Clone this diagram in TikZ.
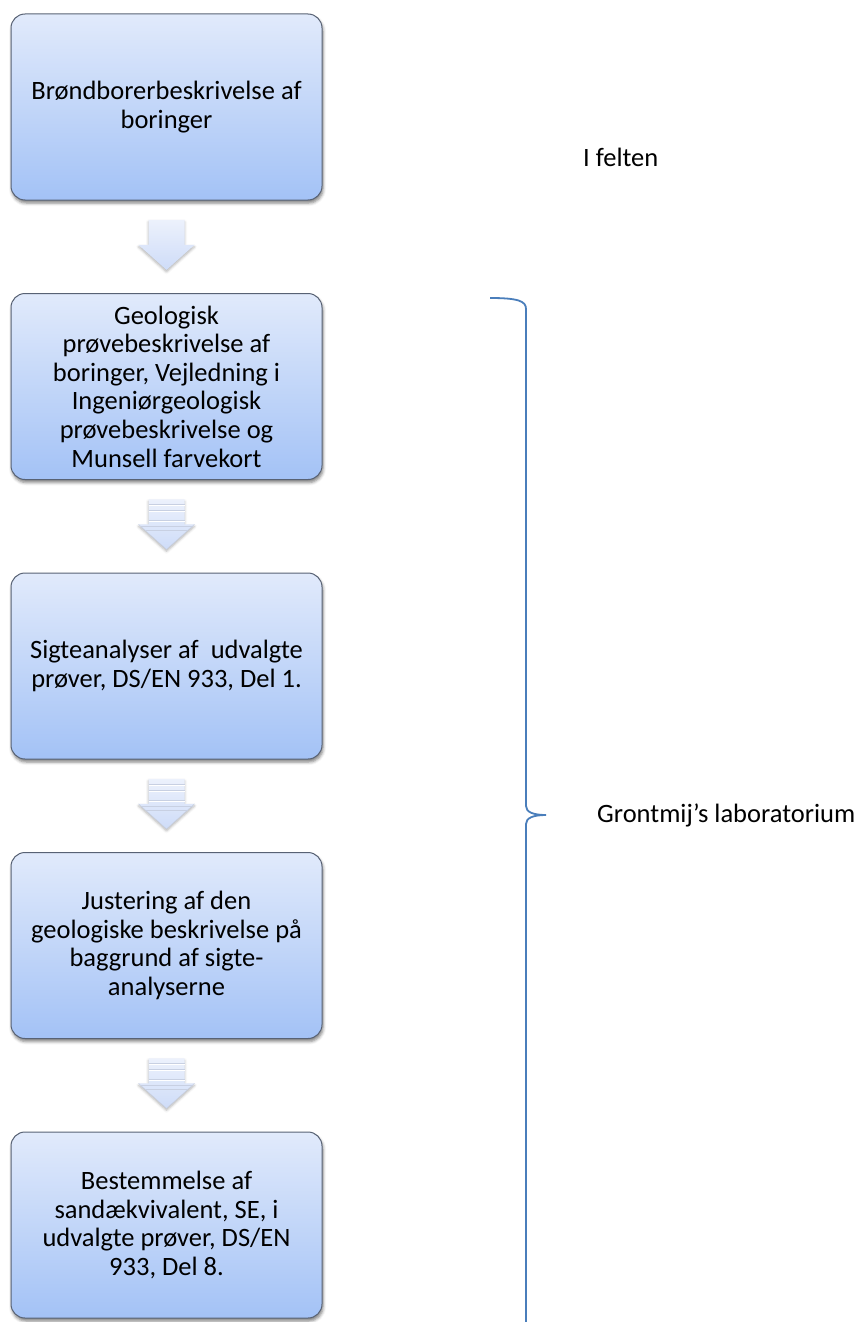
\documentclass[tikz,border=0pt]{standalone}
\usepackage{fontspec}
\setmainfont{Carlito}
\usepackage{tikz}
\usetikzlibrary{calc,shadows.blur}
\definecolor{boxtop}{RGB}{225,234,251}
\definecolor{boxbot}{RGB}{163,194,246}
\definecolor{boxline}{RGB}{88,98,116}
\definecolor{arrtop}{RGB}{236,241,252}
\definecolor{arrbot}{RGB}{206,220,248}
\definecolor{arrline}{RGB}{200,208,226}
\definecolor{bracecol}{RGB}{74,126,187}
\tikzset{
  stepbox/.style={rectangle, rounded corners=14pt, draw=boxline, line width=1pt,
                  top color=boxtop, bottom color=boxbot, align=center,
                  font=\fontsize{26.5}{28.6}\selectfont, inner sep=0pt,
                  minimum width=311pt, minimum height=186pt,
                  blur shadow={shadow xshift=1pt, shadow yshift=-3pt,
                               shadow blur radius=3pt, shadow opacity=50}},
  blockarr/.style={top color=arrtop, bottom color=arrbot,
                   blur shadow={shadow xshift=0pt, shadow yshift=-2pt,
                                shadow blur radius=2.5pt, shadow opacity=30}},
  stripe/.style={arrline, line width=0.5pt},
  bracket/.style={draw=bracecol, line width=1.8pt},
  sidelbl/.style={font=\fontsize{26.5}{28.6}\selectfont, inner sep=0pt},
}
\begin{document}
\begin{tikzpicture}[x=1pt, y=-1pt]
  \useasboundingbox (0,0) rectangle (859,1322);
  % the five steps
  \foreach \i/\t in {1/{Brøndborerbeskrivelse af\\boringer},
                     2/{Geologisk\\prøvebeskrivelse af\\boringer, Vejledning i\\Ingeniørgeologisk\\prøvebeskrivelse og\\Munsell farvekort},
                     3/{Sigteanalyser af~ udvalgte\\prøver, DS/EN 933, Del 1.},
                     4/{Justering af den\\geologiske beskrivelse på\\baggrund af sigte-\\analyserne},
                     5/{Bestemmelse af\\sandækvivalent, SE, i\\udvalgte prøver, DS/EN\\933, Del 8.}} {
    \node[stepbox] (b\i) at (166.5, {107+(\i-1)*279.5}) {\t};
  }
  % block arrows between the steps
  \foreach \i [evaluate=\i as \j using int(\i+1)] in {1,...,4} {
    \coordinate (s\i) at ($(b\i.south)!0.21!(b\j.north)$);
    \coordinate (h\i) at ($(b\i.south)!0.48!(b\j.north)$);
    \coordinate (t\i) at ($(b\i.south)!0.75!(b\j.north)$);
    \path[blockarr] ($(s\i)+(-18,0)$) -- ($(s\i)+(18,0)$) -- ($(h\i)+(18,0)$)
      -- ($(h\i)+(28,0)$) -- (t\i) -- ($(h\i)+(-28,0)$) -- ($(h\i)+(-18,0)$) -- cycle;
    \ifnum\i>1
      \foreach \d in {5,11,21} {
        \draw[stripe] ($(s\i)+(-18,\d)$) -- ($(s\i)+(18,\d)$);
        \draw[white, line width=0.8pt] ($(s\i)+(-18,\d+1)$) -- ($(s\i)+(18,\d+1)$);
      }
      \draw[stripe] ($(h\i)+(-26,2)$) -- ($(h\i)+(26,2)$);
      \draw[stripe] ($(h\i)+(-21,6)$) -- ($(h\i)+(21,6)$);
      \draw[stripe] ($(h\i)+(-28,0)$) -- (t\i) -- ($(h\i)+(28,0)$);
    \fi
  }
  % brace for the lab steps
  \coordinate (tip) at (546,815);
  \draw[bracket] (490,298) .. controls (518,298) and (526,301) .. (526,309)
    -- (526,806) .. controls (526,812) and (533,815) .. (tip)
    .. controls (533,815) and (526,818) .. (526,824) -- (526,1340);
  % side labels
  \node[sidelbl, anchor=base west] (felt) at (583,166) {I felten};
  \node[sidelbl, anchor=base west] (lab) at (597,822) {Grontmij’s laboratorium};
\end{tikzpicture}
\end{document}
